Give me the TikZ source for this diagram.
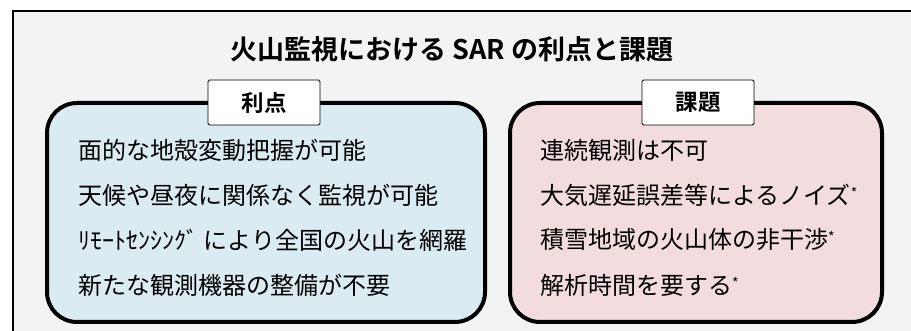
\documentclass[tikz,border=0pt]{standalone}
\usepackage{fontspec}
\setmainfont{Noto Sans CJK JP}[BoldFont={Noto Sans CJK JP Bold}]
\definecolor{bggray}{HTML}{F2F3F3}
\definecolor{boxblue}{HTML}{DAECF2}
\definecolor{boxpink}{HTML}{F3DCDD}
\tikzset{
  panel/.style={draw=black, line width=4pt, rounded corners=30pt},
  tabbox/.style={draw=black, line width=0.9pt, fill=white, rounded corners=1.5pt,
    minimum width=112pt, minimum height=45pt, inner sep=0pt,
    font=\fontsize{22.5}{23}\selectfont\bfseries},
  itemtext/.style={anchor=west, inner sep=0pt, font=\fontsize{24}{24}\selectfont}
}
\newcommand{\astmark}{\raisebox{6pt}{\fontsize{14}{14}\selectfont *}}
\begin{document}
\begin{tikzpicture}[x=1pt,y=-1pt]
\useasboundingbox (0,0) rectangle (911,331);
\clip (0,0) rectangle (911,331);
\fill[white] (0,0) rectangle (911,331);
\draw[fill=bggray, line width=1.5pt] (13,11) rectangle (930,350);
\node[font=\fontsize{27}{27}\selectfont\bfseries, inner sep=0pt] (title) at (452,49) {火山監視における SAR の利点と課題};
% panels
\draw[panel, fill=boxblue] (47,103) rectangle (485,322);
\draw[panel, fill=boxpink] (510,103) rectangle (882,322);
% tabs
\node[tabbox] (tabL) at (264,102.5) {利点};
\node[tabbox] (tabR) at (698,102.5) {課題};
% left items
\node[itemtext] (l1) at (78,150) {面的な地殻変動把握が可能};
\node[itemtext] (l2) at (78,195) {天候や昼夜に関係なく監視が可能};
\node[itemtext] (l3) at (78,240) {ﾘﾓｰﾄｾﾝｼﾝｸﾞ により全国の火山を網羅};
\node[itemtext] (l4) at (78,285) {新たな観測機器の整備が不要};
% right items
\node[itemtext] (r1) at (540,150) {連続観測は不可};
\node[itemtext] (r2) at (540,195) {大気遅延誤差等によるノイズ\astmark};
\node[itemtext] (r3) at (540,240) {積雪地域の火山体の非干渉\astmark};
\node[itemtext] (r4) at (540,285) {解析時間を要する\astmark};
\end{tikzpicture}
\end{document}
